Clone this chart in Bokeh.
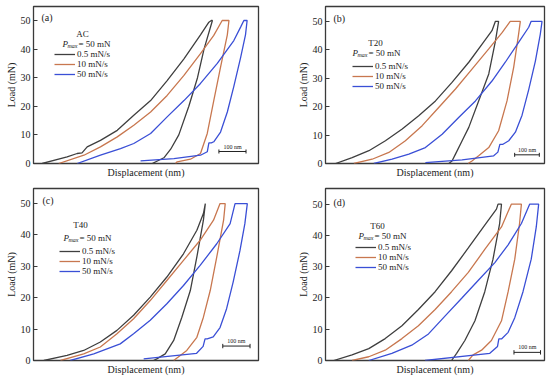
from bokeh.plotting import figure
from bokeh.models import Range1d, FixedTicker, Legend, LegendItem, Label, Whisker, ColumnDataSource, Title
from bokeh.layouts import column, row
from bokeh.embed import file_html
from bokeh.resources import INLINE

FONT = "Liberation Serif"
C_BLACK = "#3f3f3f"
C_RED = "#c8774f"
C_BLUE = "#3a4fd6"

rate_labels = ["0.5 mN/s", "10 mN/s", "50 mN/s"]
samples = ["AC", "T20", "T40", "T60"]
panel_tags = ["(a)", "(b)", "(c)", "(d)"]
pmax_text = "= 50 mN"
scale_len_nm = 100

# ---- Panel (a) AC : displacement (nm), load (mN)
a_x_range = 830
a_black_x = [32, 124, 161, 179, 198, 247, 309, 370, 432, 493, 555, 616, 647, 656, 660, 629, 605, 573, 536, 506, 481, 438]
a_black_y = [0, 2.3, 3.5, 3.7, 5.8, 8.1, 11.6, 16.9, 22, 29, 36.6, 45, 49.4, 50, 50, 40, 30, 20, 10, 5, 2, 0]
a_red_x = [93, 186, 247, 309, 370, 432, 493, 555, 616, 665, 696, 721, 715, 690, 665, 641, 616, 579, 530, 524]
a_red_y = [0, 2.9, 5.8, 9.3, 13.4, 18, 23.8, 30.8, 38.4, 44.8, 50, 50, 45, 33.7, 22, 10.5, 3.5, 1.5, 0.6, 0]
a_blue_x = [161, 247, 321, 370, 432, 493, 555, 616, 678, 739, 764, 776, 788, 782, 764, 739, 715, 690, 665, 656, 647, 641, 616, 518, 395]
a_blue_y = [0, 2.9, 5.2, 7, 10.5, 16.3, 22, 28, 35, 43, 47.7, 50, 50, 45, 37, 27, 18, 11, 7.6, 7.2, 7.2, 4.1, 2.9, 1.7, 0.9]

# ---- Panel (b) T20
b_x_range = 888
b_black_x = [41, 108, 176, 243, 311, 378, 446, 513, 581, 635, 675, 689, 702, 689, 662, 621, 581, 554, 527, 513, 500]
b_black_y = [0, 2.1, 4.5, 8, 12.1, 16.8, 22, 28.5, 35.6, 42, 46.7, 50, 50, 43, 31.5, 22, 12.7, 8, 3.3, 0.9, 0]
b_red_x = [115, 189, 257, 324, 392, 459, 527, 594, 662, 716, 749, 790, 783, 763, 736, 702, 662, 621, 594, 578]
b_red_y = [0, 1.5, 3.9, 8, 13.3, 19.7, 26.2, 33.2, 40.3, 46, 50, 50, 45.5, 33.8, 22, 11.5, 5.6, 2.7, 0.9, 0]
b_blue_x = [196, 270, 338, 405, 473, 540, 608, 675, 729, 783, 824, 834, 878, 871, 851, 824, 797, 770, 743, 718, 707, 699, 682, 554, 405]
b_blue_y = [0, 1.5, 3.3, 5.6, 10.3, 16.2, 22, 29, 35.6, 42.6, 47.9, 50, 50, 45.5, 36, 26, 17, 11, 8, 6.7, 6.7, 4, 2.7, 1.3, 0.3]

# ---- Panel (c) T40
c_x_range = 825
c_black_x = [38, 123, 184, 245, 306, 367, 428, 489, 550, 599, 623, 630, 623, 599, 575, 544, 514, 483, 452, 440]
c_black_y = [0, 1.6, 3.2, 5.9, 9.6, 14.4, 20.2, 26.6, 34, 41.5, 46.8, 50, 44.7, 33, 22.3, 13.8, 6.4, 2.1, 0.5, 0]
c_red_x = [99, 184, 245, 306, 367, 428, 489, 550, 611, 660, 684, 703, 697, 672, 648, 623, 599, 562, 538, 514]
c_red_y = [0, 2.1, 4.3, 8.5, 13.3, 19.1, 25.5, 31.9, 38.3, 44.7, 50, 50, 44.7, 33, 22.3, 13.8, 7.4, 3.2, 1.6, 0]
c_blue_x = [135, 221, 318, 367, 428, 489, 550, 611, 672, 721, 739, 784, 775, 757, 732, 708, 684, 659, 637, 629, 622, 598, 404]
c_blue_y = [0, 2.1, 5.3, 8.5, 12.8, 18.1, 23.9, 30.3, 37.2, 43.6, 50, 50, 43.6, 35, 25, 16.5, 10.5, 7.5, 6.9, 6.9, 4.5, 2.3, 0.5]

# ---- Panel (d) T60
d_x_range = 825
d_black_x = [31, 100, 163, 225, 288, 350, 413, 475, 538, 600, 644, 650, 663, 656, 631, 600, 563, 525, 494, 475]
d_black_y = [0, 1.8, 3.8, 7, 11.1, 16.3, 22, 28.7, 36, 43.3, 48.4, 50, 50, 43.8, 32.4, 22, 12.7, 6.4, 2.3, 0]
d_red_x = [100, 163, 225, 288, 350, 413, 475, 538, 600, 663, 700, 738, 731, 713, 688, 663, 625, 588, 556, 538]
d_red_y = [0, 1.2, 3.3, 7, 11.1, 16.3, 22, 28.2, 35.5, 42.7, 50, 50, 43.8, 32.4, 22, 12.7, 6.4, 3.3, 1.8, 0]
d_blue_x = [163, 250, 325, 388, 450, 513, 575, 638, 688, 738, 769, 803, 794, 775, 744, 713, 688, 663, 653, 648, 619, 375]
d_blue_y = [0, 2.3, 4.9, 8.5, 14.2, 19.9, 25.6, 31.3, 37, 43.8, 50, 50, 42.7, 32.4, 22, 13.7, 9, 6.9, 6.9, 4.5, 2.3, 0]

scale_start = [684, 767, 694, 710]
scale_load = [4.2, 3.05, 4.6, 2.6]

panels = [
    dict(xr=a_x_range, yr=54.9, curves=[(a_black_x, a_black_y), (a_red_x, a_red_y), (a_blue_x, a_blue_y)],
         w=290, h=183, bl=33, br=32, bt=6, bb=20, xoff=-8,
         tag=(8, 11), name=(49, 27), pm=(29, 37), leg=(21, 47)),
    dict(xr=b_x_range, yr=55.2, curves=[(b_black_x, b_black_y), (b_red_x, b_red_y), (b_blue_x, b_blue_y)],
         w=260, h=183, bl=35, br=6, bt=5, bb=20, xoff=3,
         tag=(8, 12), name=(50, 37), pm=(27, 47), leg=(27, 61)),
    dict(xr=c_x_range, yr=54.8, curves=[(c_black_x, c_black_y), (c_red_x, c_red_y), (c_blue_x, c_blue_y)],
         w=290, h=196, bl=33, br=32, bt=5, bb=19, xoff=4,
         tag=(9, 12), name=(47, 36), pm=(30, 49), leg=(26, 63)),
    dict(xr=d_x_range, yr=55.0, curves=[(d_black_x, d_black_y), (d_red_x, d_red_y), (d_blue_x, d_blue_y)],
         w=260, h=196, bl=35, br=6, bt=1, bb=18, xoff=2,
         tag=(8, 14), name=(52, 39), pm=(33, 49), leg=(30, 63)),
]

LEG_ROW = 11
LEG_FIX = 2

colors = [C_BLACK, C_RED, C_BLUE]
figs = []
for i, P in enumerate(panels):
    fw = P["w"] - P["bl"] - P["br"]
    fh = P["h"] - P["bt"] - P["bb"]
    p = figure(width=P["w"], height=P["h"], output_backend="svg", toolbar_location=None,
               x_range=Range1d(0, P["xr"]), y_range=Range1d(0, P["yr"]),
               min_border_left=P["bl"], min_border_right=P["br"],
               min_border_top=P["bt"], min_border_bottom=P["bb"])
    p.grid.visible = False
    p.outline_line_color = "#3a3a3a"
    p.outline_line_width = 1.3
    p.background_fill_color = "white"
    p.border_fill_color = "white"

    def px(fx, fy, P=P, fw=fw, fh=fh):
        return fx / fw * P["xr"], P["yr"] - fy / fh * P["yr"]

    yax = p.yaxis[0]
    yax.ticker = FixedTicker(ticks=[0, 10, 20, 30, 40, 50])
    yax.major_tick_in = 4
    yax.major_tick_out = 0
    yax.minor_tick_in = 0
    yax.minor_tick_out = 0
    yax.axis_line_color = "#3a3a3a"
    yax.major_tick_line_color = "#3a3a3a"
    yax.major_label_text_font = FONT
    yax.major_label_text_font_size = "10px"
    yax.major_label_text_color = "#222222"
    yax.major_label_standoff = 3
    yax.axis_label = "Load (mN)"
    yax.axis_label_text_font = FONT
    yax.axis_label_text_font_size = "10px"
    yax.axis_label_text_font_style = "normal"
    yax.axis_label_text_color = "#222222"
    yax.axis_label_standoff = 1

    p.xaxis.visible = False
    p.add_layout(Title(text="Displacement (nm)", align="center", text_font=FONT,
                       text_font_size="10px", text_font_style="normal", text_color="#222222",
                       standoff=3, offset=P["xoff"]), "below")

    items = []
    for (xs, ys), col, lab in zip(P["curves"], colors, rate_labels):
        r = p.line(xs, ys, line_color=col, line_width=1.3)
        items.append(LegendItem(label=lab, renderers=[r]))

    lx, ly = P["leg"]
    leg_bottom_from_top = ly + 2 * LEG_ROW + LEG_ROW / 2
    leg = Legend(items=items, location=(lx, int(round(fh - leg_bottom_from_top + LEG_FIX))),
                 label_text_font=FONT, label_text_font_size="9px", label_text_color="#222222",
                 glyph_width=21, glyph_height=10, label_height=10, label_standoff=2,
                 spacing=0, padding=0, margin=0, border_line_alpha=0, background_fill_alpha=0)
    p.add_layout(leg, "center")

    tx, ty = px(*P["tag"])
    p.add_layout(Label(x=tx, y=ty, text=panel_tags[i], text_font=FONT, text_font_size="10px",
                       text_baseline="middle", text_color="#222222"))
    nx, ny = px(*P["name"])
    p.add_layout(Label(x=nx, y=ny, text=samples[i], text_font=FONT, text_font_size="9px",
                       text_baseline="middle", text_align="center", text_color="#222222"))
    mx, my = px(*P["pm"])
    p.add_layout(Label(x=mx, y=my, text="P", text_font=FONT, text_font_size="9px",
                       text_font_style="italic", text_baseline="middle", text_color="#222222"))
    sx, sy = px(P["pm"][0] + 5, P["pm"][1] + 2)
    p.add_layout(Label(x=sx, y=sy, text="max", text_font=FONT, text_font_size="6px",
                       text_font_style="italic", text_baseline="middle", text_color="#222222"))
    ex, ey = px(P["pm"][0] + 16, P["pm"][1])
    p.add_layout(Label(x=ex, y=ey, text=pmax_text, text_font=FONT, text_font_size="9px",
                       text_baseline="middle", text_color="#222222"))

    # scale bar
    s0 = scale_start[i]
    sl = scale_load[i]
    src = ColumnDataSource(dict(y=[sl], lo=[s0], hi=[s0 + scale_len_nm]))
    p.add_layout(Whisker(source=src, base="y", lower="lo", upper="hi", dimension="width",
                         line_color="#222222", line_width=1,
                         lower_head=None, upper_head=None))
    p.segment(x0=[s0, s0 + scale_len_nm], y0=[sl - 0.7, sl - 0.7],
              x1=[s0, s0 + scale_len_nm], y1=[sl + 0.7, sl + 0.7], line_color="#222222", line_width=1)
    p.add_layout(Label(x=s0 + scale_len_nm / 2, y=sl + 0.6, text=f"{scale_len_nm} nm",
                       text_font=FONT, text_font_size="6px", text_align="center",
                       text_baseline="bottom", text_color="#222222"))
    figs.append(p)

layout = column(row(figs[0], figs[1]), row(figs[2], figs[3]))
open("out.html", "w").write(file_html(layout, INLINE))
